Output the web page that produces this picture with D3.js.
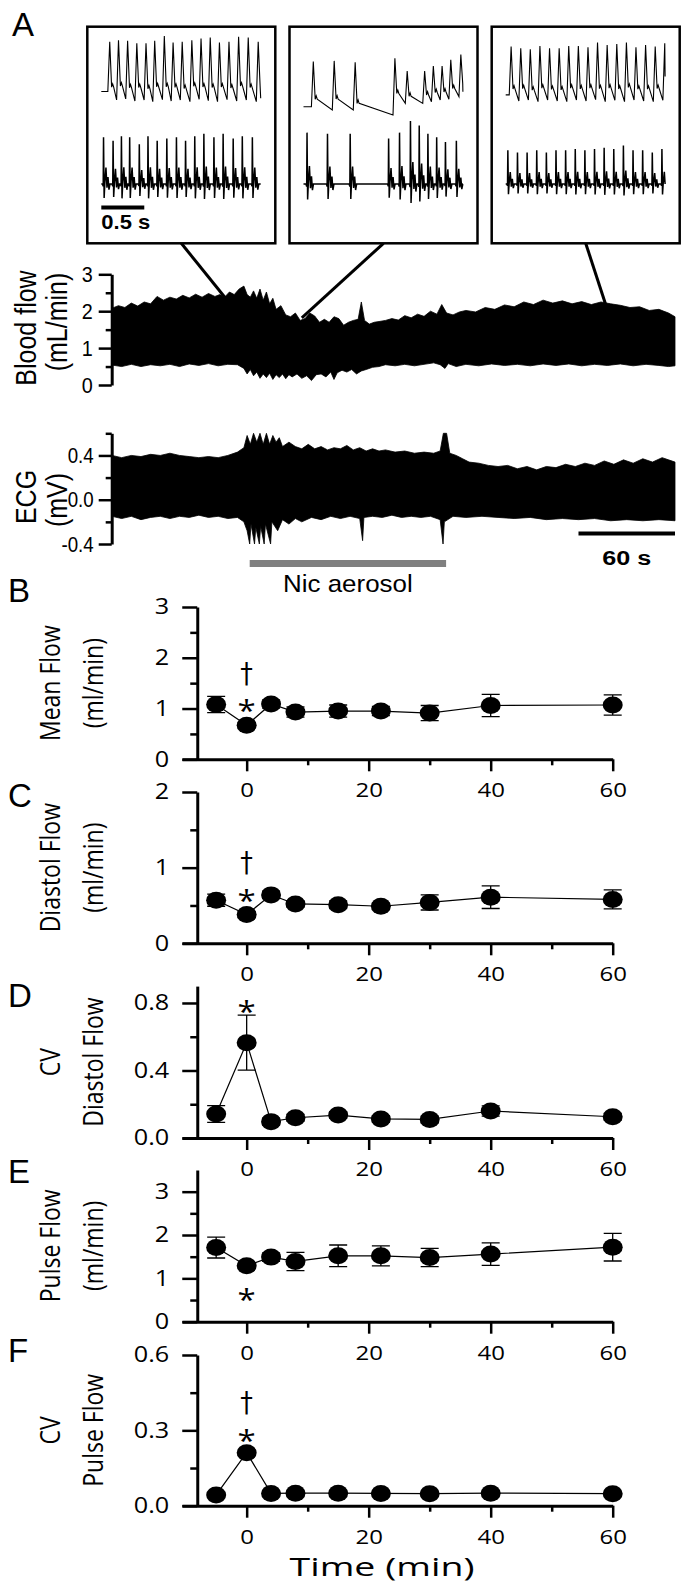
<!DOCTYPE html>
<html>
<head>
<meta charset="utf-8">
<script src="https://cdn.jsdelivr.net/npm/d3@7"></script>
<style>
  body { margin: 0; background: #fff; }
  svg { display: block; }
</style>
</head>
<body>
<svg id="fig"></svg>
<script>
// ---------- panel A: raw traces (envelope of the recordings, s / mL/min / mV) ----------
const flowTopT = [0,4,8,12,16,20,24,28,32,36,40,44,48,52,56,60,64,67,70,73,76,79,82,84,86,88,90,92,94,96,98,100,102,105,108,111,114,117,120,123,126,129,132,135,138,141,144,147,150,153,155,157,160,163,166,170,174,178,182,186,190,194,198,202,205,208,212,216,220,226,232,238,244,250,256,262,268,274,280,286,292,298,304,310,316,322,328,334,340,346,350];
const flowTop = [2.08,2.15,2.10,2.22,2.14,2.25,2.20,2.40,2.30,2.38,2.33,2.43,2.36,2.46,2.38,2.48,2.40,2.45,2.38,2.52,2.45,2.60,2.68,2.45,2.38,2.55,2.35,2.60,2.30,2.52,2.20,2.35,2.05,2.15,1.90,1.85,1.95,1.75,1.80,1.95,1.87,1.70,1.78,1.70,1.85,1.80,1.62,1.70,1.75,1.78,2.25,1.75,1.65,1.70,1.72,1.75,1.80,1.76,1.88,1.82,1.92,1.86,2.00,1.92,2.18,1.95,1.90,1.98,2.02,1.98,2.10,2.05,2.17,2.12,2.25,2.18,2.30,2.22,2.28,2.20,2.26,2.18,2.25,2.20,2.16,2.10,2.12,2.02,2.05,1.95,1.85];
const flowBotT = [0,6,12,18,24,30,36,42,48,54,60,66,72,78,82,84,86,88,90,92,94,96,98,100,102,104,106,108,110,112,115,118,121,124,127,130,133,136,138,140,143,146,149,152,155,158,162,166,170,176,182,188,194,200,204,207,209,214,220,228,236,244,252,260,268,276,284,292,300,308,316,324,332,340,346,350];
const flowBot = [0.54,0.50,0.56,0.50,0.55,0.52,0.56,0.50,0.57,0.53,0.58,0.52,0.56,0.55,0.45,0.30,0.42,0.25,0.35,0.18,0.30,0.20,0.32,0.15,0.28,0.20,0.30,0.17,0.28,0.22,0.30,0.18,0.25,0.12,0.28,0.30,0.22,0.35,0.15,0.33,0.40,0.35,0.42,0.30,0.38,0.42,0.48,0.50,0.55,0.52,0.56,0.52,0.56,0.60,0.55,0.45,0.58,0.50,0.56,0.52,0.57,0.53,0.56,0.52,0.57,0.53,0.57,0.52,0.56,0.53,0.57,0.52,0.56,0.53,0.50,0.52];
const ecgTopT = [0,6,12,18,24,30,36,42,48,54,60,66,72,78,82,84,86,88,90,92,94,96,98,100,102,104,106,110,114,118,122,126,130,134,138,142,146,150,154,158,162,166,170,176,182,188,194,200,204,206,208,210,214,218,222,228,234,240,246,252,258,264,270,276,282,288,294,300,306,312,318,324,330,336,342,346,350];
const ecgTop = [0.40,0.38,0.40,0.39,0.41,0.40,0.42,0.40,0.39,0.38,0.39,0.38,0.40,0.43,0.47,0.58,0.50,0.60,0.52,0.60,0.50,0.60,0.50,0.58,0.52,0.56,0.48,0.52,0.48,0.46,0.50,0.46,0.48,0.45,0.47,0.46,0.49,0.45,0.47,0.44,0.46,0.44,0.45,0.43,0.44,0.42,0.43,0.42,0.44,0.60,0.60,0.42,0.40,0.37,0.34,0.33,0.31,0.30,0.31,0.28,0.30,0.27,0.30,0.29,0.32,0.30,0.33,0.31,0.35,0.32,0.36,0.33,0.37,0.34,0.38,0.36,0.34];
const ecgBotT = [0,6,12,18,24,30,36,42,48,54,60,66,72,78,82,84,85.6,86.4,88.6,89.4,91.6,92.4,94.6,95.4,98.6,99.4,103,106,110,114,118,124,130,136,142,148,154,155.8,156.6,162,168,174,180,186,192,198,204,205.8,206.6,212,220,230,240,250,260,270,280,290,300,310,320,330,340,350];
const ecgBot = [-0.15,-0.17,-0.15,-0.18,-0.16,-0.15,-0.17,-0.15,-0.16,-0.14,-0.16,-0.15,-0.17,-0.16,-0.20,-0.28,-0.40,-0.22,-0.40,-0.25,-0.40,-0.24,-0.40,-0.22,-0.40,-0.20,-0.28,-0.18,-0.22,-0.17,-0.20,-0.16,-0.18,-0.15,-0.17,-0.15,-0.17,-0.37,-0.16,-0.15,-0.16,-0.14,-0.16,-0.15,-0.16,-0.15,-0.18,-0.40,-0.20,-0.15,-0.16,-0.15,-0.16,-0.17,-0.16,-0.18,-0.17,-0.18,-0.17,-0.19,-0.18,-0.19,-0.18,-0.19];

const flowTicks = [0, 0.5, 1, 1.5, 2, 2.5, 3];
const flowMajor = [0, 1, 2, 3];
const ecgTicks = [-0.4, -0.2, 0, 0.2, 0.4, 0.6];
const ecgMajor = [-0.4, 0, 0.4];

const nicPeriod = [85.6, 207.7];   // s
const scaleBar = [290, 350];       // 60 s
const insetAt = [71, 118, 307];    // where each inset was taken (s)
const insetFlow = [2.33, 1.82, 2.17];

// ---------- insets: beat times (s), pulse peaks / troughs (mL/min), ECG R amplitude (mV) ----------
const insetSpan = 1.854;
const in1PulseT = [0.086,0.188,0.294,0.401,0.508,0.609,0.721,0.823,0.929,1.041,1.148,1.255,1.362,1.473,1.585,1.697,1.813];
const in1PulsePeak = [2.26,2.31,2.29,2.22,2.22,2.29,2.43,2.24,2.26,2.31,2.36,2.39,2.24,2.26,2.41,2.39,2.26];
const in1PulseTrough = [0.80,0.55,0.58,0.52,0.55,0.50,0.56,0.52,0.55,0.50,0.57,0.53,0.50,0.56,0.52,0.55,0.50];
const in1PulseEnd = 0.6;
const in1EcgT = [0.026,0.137,0.234,0.330,0.442,0.543,0.650,0.762,0.874,0.980,1.087,1.193,1.310,1.417,1.534,1.640,1.757];
const in1EcgAmp = [0.40,0.37,0.41,0.40,0.34,0.41,0.37,0.39,0.40,0.37,0.41,0.43,0.40,0.43,0.39,0.41,0.40];

const in2PulseT = [0.102,0.345,0.589,1.051,1.194,1.397,1.498,1.600,1.701,1.818];
const in2PulsePeak = [1.68,1.70,1.66,1.78,1.40,1.40,1.55,1.55,1.73,1.89];
const in2PulseTrough = [0.35,0.26,0.26,0.11,0.45,0.45,0.50,0.55,0.57,0.65];
const in2PulseEnd = 0.79;
const in2EcgT = [0.041,0.279,0.543,0.990,1.117,1.244,1.346,1.447,1.549,1.651,1.778];
const in2EcgAmp = [0.44,0.43,0.43,0.39,0.44,0.54,0.50,0.43,0.40,0.36,0.37];

const in3PulseT = [0.051,0.163,0.274,0.386,0.498,0.610,0.721,0.833,0.945,1.056,1.168,1.280,1.392,1.503,1.615,1.727,1.838];
const in3PulsePeak = [2.12,2.07,2.04,2.14,2.07,2.07,2.14,2.14,2.10,2.24,2.17,2.20,2.24,2.10,2.17,2.12,2.22];
const in3PulseTrough = [0.70,0.52,0.55,0.50,0.55,0.52,0.50,0.55,0.52,0.56,0.50,0.54,0.50,0.55,0.52,0.50,0.54];
const in3PulseEnd = 1.24;
const in3EcgT = [0.025,0.137,0.249,0.361,0.473,0.585,0.697,0.809,0.921,1.033,1.145,1.257,1.369,1.481,1.593,1.705,1.817];
const in3EcgAmp = [0.29,0.27,0.27,0.29,0.27,0.29,0.29,0.30,0.29,0.30,0.31,0.30,0.33,0.29,0.29,0.27,0.30];

// ---------- panels B-F: summary values (mean ± SE) ----------
const times = [-5, 0, 4, 8, 15, 22, 30, 40, 60];
const meanFlow = [1.08, 0.67, 1.09, 0.93, 0.95, 0.95, 0.91, 1.06, 1.07];
const meanFlowErr = [0.16, 0.05, 0.08, 0.10, 0.12, 0.09, 0.15, 0.22, 0.20];
const diastolFlow = [0.57, 0.38, 0.64, 0.52, 0.51, 0.49, 0.54, 0.61, 0.58];
const diastolFlowErr = [0.08, 0.04, 0.05, 0.04, 0.05, 0.04, 0.10, 0.15, 0.125];
const cvDiastol = [0.142, 0.565, 0.097, 0.12, 0.136, 0.113, 0.11, 0.16, 0.126];
const cvDiastolErr = [0.05, 0.163, 0.02, 0.02, 0.02, 0.02, 0.02, 0.03, 0.02];
const pulseFlow = [1.71, 1.29, 1.49, 1.39, 1.52, 1.52, 1.48, 1.56, 1.72];
const pulseFlowErr = [0.24, 0.05, 0.10, 0.21, 0.25, 0.23, 0.21, 0.26, 0.32];
const cvPulse = [0.043, 0.211, 0.049, 0.05, 0.05, 0.049, 0.048, 0.05, 0.048];
const cvPulseErr = [0.005, 0.01, 0.005, 0.005, 0.005, 0.005, 0.005, 0.005, 0.005];

const xTicks = [0, 10, 20, 30, 40, 50, 60];
const xMajor = [0, 20, 40, 60];

// ---------- drawing ----------
const svg = d3.select('#fig').attr('width', 685).attr('height', 1586);
const SANS_A = '"Liberation Sans", Arial, sans-serif';
const SANS_B = '"Open Sans", "Noto Sans", sans-serif';

// stretch text horizontally around its anchor
function squeeze(sel, sx) {
  sel.each(function () {
    const t = d3.select(this);
    const x = +t.attr('x') || 0;
    t.attr('x', 0).attr('transform', `translate(${x},0) scale(${sx},1)`);
  });
}

function styleAxis(g, font, size, sx) {
  g.attr('font-family', null).attr('font-size', null);
  g.select('.domain').attr('stroke-width', 3).attr('stroke', '#000');
  g.selectAll('.tick line').attr('stroke-width', 2.5).attr('stroke', '#000');
  g.selectAll('.tick text').attr('font-family', font).attr('font-size', size).attr('fill', '#000');
  squeeze(g.selectAll('.tick text'), sx);
}

function addText(txt, x, y, o = {}) {
  const t = svg.append('text').text(txt)
    .attr('font-family', o.font || SANS_A)
    .attr('font-size', o.size || 20)
    .attr('font-weight', o.weight || 'normal')
    .attr('text-anchor', o.anchor || 'start');
  if (o.rotate) {
    t.attr('transform', `translate(${x},${y}) rotate(-90) scale(1,${o.sy || 1})`).attr('dy', '0.35em');
  } else {
    t.attr('transform', `translate(${x},${y}) scale(${o.sx || 1},1)`);
  }
  return t;
}

// panel A scales
const tx = d3.scaleLinear().domain([0, 350]).range([112, 675]);
const flowY = d3.scaleLinear().domain([0, 3]).range([385, 274.3]);
const ecgY = d3.scaleLinear().domain([-0.4, 0.6]).range([544, 433.3]);

function band(topT, top, botT, bot, yS) {
  const pts = topT.map((t, i) => [tx(t), yS(top[i])])
    .concat(botT.map((t, i) => [tx(t), yS(bot[i])]).reverse());
  return d3.line()(pts) + 'Z';
}

svg.append('path').attr('d', band(flowTopT, flowTop, flowBotT, flowBot, flowY))
  .attr('fill', '#000').attr('stroke', '#000').attr('stroke-width', 0.8);
svg.append('path').attr('d', band(ecgTopT, ecgTop, ecgBotT, ecgBot, ecgY))
  .attr('fill', '#000').attr('stroke', '#000').attr('stroke-width', 0.8);

const gFlow = svg.append('g').attr('transform', `translate(${tx(0) - 0.3},0)`)
  .call(d3.axisLeft(flowY).tickValues(flowTicks).tickSize(13).tickSizeOuter(0).tickPadding(6)
    .tickFormat(d => flowMajor.includes(d) ? d : ''));
gFlow.selectAll('.tick line').attr('x2', d => flowMajor.includes(d) ? -13 : -6);
styleAxis(gFlow, SANS_A, 22, 0.9);

const gEcg = svg.append('g').attr('transform', `translate(${tx(0) - 0.3},0)`)
  .call(d3.axisLeft(ecgY).tickValues(ecgTicks).tickSize(13).tickSizeOuter(0).tickPadding(5)
    .tickFormat(d => ecgMajor.includes(d) ? d.toFixed(1) : ''));
gEcg.selectAll('.tick line').attr('x2', d => ecgMajor.includes(d) ? -13 : -6);
styleAxis(gEcg, SANS_A, 22, 0.85);

addText('Blood flow', 26, 328, { rotate: true, size: 25, anchor: 'middle', sy: 1.15 });
addText('(mL/min)', 57, 322, { rotate: true, size: 25, anchor: 'middle', sy: 1.15 });
addText('ECG', 26, 497, { rotate: true, size: 25, anchor: 'middle', sy: 1.15 });
addText('(mV)', 57, 500, { rotate: true, size: 25, anchor: 'middle', sy: 1.15 });

// nicotine bar and 60 s scale
svg.append('line').attr('x1', tx(nicPeriod[0])).attr('x2', tx(nicPeriod[1]))
  .attr('y1', 563.5).attr('y2', 563.5).attr('stroke', '#808080').attr('stroke-width', 7);
addText('Nic aerosol', tx((nicPeriod[0] + nicPeriod[1]) / 2), 592, { size: 24, anchor: 'middle', sx: 1.08 });
svg.append('line').attr('x1', tx(scaleBar[0])).attr('x2', tx(scaleBar[1]))
  .attr('y1', 533.5).attr('y2', 533.5).attr('stroke', '#000').attr('stroke-width', 4);
addText('60 s', tx((scaleBar[0] + scaleBar[1]) / 2), 565, { size: 21, weight: 'bold', anchor: 'middle', sx: 1.2 });

// insets
const boxX = [87.3, 289.5, 491.7], boxTop = 26.7, boxBot = 243.3, boxW = 188;
const insets = [
  { pT: in1PulseT, pk: in1PulsePeak, tr: in1PulseTrough, end: in1PulseEnd, eT: in1EcgT, eA: in1EcgAmp },
  { pT: in2PulseT, pk: in2PulsePeak, tr: in2PulseTrough, end: in2PulseEnd, eT: in2EcgT, eA: in2EcgAmp },
  { pT: in3PulseT, pk: in3PulsePeak, tr: in3PulseTrough, end: in3PulseEnd, eT: in3EcgT, eA: in3EcgAmp }
];
const inPulseY = d3.scaleLinear().domain([0.6, 2.3]).range([98.3, 40.5]);
const inEcgY = d3.scaleLinear().domain([0, 0.4]).range([184, 137.3]);
// beat glyphs: [time offset s, fraction]
const ecgShape = [[-0.012, 0], [-0.004, -0.05], [0, 1], [0.007, -0.3], [0.016, 0.05], [0.028, 0.35], [0.04, -0.08], [0.052, 0.15], [0.063, -0.12], [0.075, 0]];

insets.forEach((ins, k) => {
  const x0 = boxX[k];
  const ix = d3.scaleLinear().domain([0, insetSpan]).range([x0 + 14, x0 + 14 + 159.4]);
  // leader line
  svg.append('line').attr('x1', x0 + boxW / 2).attr('y1', boxBot)
    .attr('x2', tx(insetAt[k])).attr('y2', flowY(insetFlow[k]))
    .attr('stroke', '#000').attr('stroke-width', 3);
  svg.append('rect').attr('x', x0).attr('y', boxTop).attr('width', boxW).attr('height', boxBot - boxTop)
    .attr('fill', '#fff').attr('stroke', '#000').attr('stroke-width', 2.5);

  let pp = [[0, ins.tr[0]]];
  ins.pT.forEach((t, i) => {
    const next = i + 1 < ins.pT.length ? ins.tr[i + 1] : ins.end;
    const notch = next + 0.22 * (ins.pk[i] - next);
    pp.push([t - 0.01, ins.tr[i]], [t + 0.012, ins.pk[i]], [t + 0.034, notch], [t + 0.046, notch + 0.1], [t + 0.058, notch]);
  });
  pp = pp.filter(d => d[0] <= insetSpan);
  pp.push([insetSpan, ins.end]);
  svg.append('path').attr('d', d3.line().x(d => ix(d[0])).y(d => inPulseY(d[1]))(pp))
    .attr('fill', 'none').attr('stroke', '#000').attr('stroke-width', 1.1);

  let ep = [[0, 0]];
  ins.eT.forEach((t, i) => ecgShape.forEach(([dt, f]) => ep.push([t + dt, f * ins.eA[i]])));
  ep = ep.filter(d => d[0] >= 0 && d[0] <= insetSpan);
  ep.push([insetSpan, 0]);
  svg.append('path').attr('d', d3.line().x(d => ix(d[0])).y(d => inEcgY(d[1]))(ep))
    .attr('fill', 'none').attr('stroke', '#000').attr('stroke-width', 1.5);

  if (k === 0) {
    svg.append('line').attr('x1', ix(0)).attr('x2', ix(0.5)).attr('y1', 207.5).attr('y2', 207.5)
      .attr('stroke', '#000').attr('stroke-width', 4);
    addText('0.5 s', ix(0), 229, { size: 20, weight: 'bold', sx: 1.1 });
  }
});

addText('A', 12, 36, { size: 33 });

// ---------- panels B-F ----------
const timeX = d3.scaleLinear().domain([-10.6, 60]).range([182, 612.7]);
const yAxisX = timeX(-8.1);

const panels = [
  { letter: 'B', letterY: 602, vals: meanFlow, err: meanFlowErr, domain: [0, 3], top: 607, bottom: 759.3,
    ticks: [0, 0.5, 1, 1.5, 2, 2.5, 3], major: [0, 1, 2, 3], fmt: d => d, title: ['Mean Flow', '(ml/min)'],
    marks: [['†', -50], ['*', -21]] },
  { letter: 'C', letterY: 807, vals: diastolFlow, err: diastolFlowErr, domain: [0, 2], top: 792, bottom: 943.3,
    ticks: [0, 0.5, 1, 1.5, 2], major: [0, 1, 2], fmt: d => d, title: ['Diastol Flow', '(ml/min)'],
    marks: [['†', -51], ['*', -21]] },
  { letter: 'D', letterY: 1007, vals: cvDiastol, err: cvDiastolErr, domain: [0, 0.9], top: 986.1, bottom: 1138,
    ticks: [0, 0.2, 0.4, 0.6, 0.8], major: [0, 0.4, 0.8], fmt: d => d.toFixed(1), title: ['CV', 'Diastol Flow'],
    marks: [['*', -38]] },
  { letter: 'E', letterY: 1183, vals: pulseFlow, err: pulseFlowErr, domain: [0, 3.5], top: 1170, bottom: 1321.7,
    ticks: [0, 0.5, 1, 1.5, 2, 2.5, 3], major: [0, 1, 2, 3], fmt: d => d, title: ['Pulse Flow', '(ml/min)'],
    marks: [['*', 27]] },
  { letter: 'F', letterY: 1362, vals: cvPulse, err: cvPulseErr, domain: [0, 0.6], top: 1355, bottom: 1505.7,
    ticks: [0, 0.15, 0.3, 0.45, 0.6], major: [0, 0.3, 0.6], fmt: d => d.toFixed(1), title: ['CV', 'Pulse Flow'],
    marks: [['†', -49], ['*', -19]] }
];

panels.forEach(p => {
  const y = d3.scaleLinear().domain(p.domain).range([p.bottom, p.top]);

  const gx = svg.append('g').attr('transform', `translate(0,${p.bottom})`)
    .call(d3.axisBottom(timeX).tickValues(xTicks).tickSize(12).tickSizeOuter(0).tickPadding(12)
      .tickFormat(d => xMajor.includes(d) ? d : ''));
  gx.selectAll('.tick line').attr('y2', d => xMajor.includes(d) ? 12 : 6);
  styleAxis(gx, SANS_B, 20, 1.2);

  const gy = svg.append('g').attr('transform', `translate(${yAxisX},0)`)
    .call(d3.axisLeft(y).tickValues(p.ticks).tickSize(15).tickSizeOuter(0).tickPadding(13)
      .tickFormat(d => p.major.includes(d) ? p.fmt(d) : ''));
  gy.selectAll('.tick line').attr('x2', d => p.major.includes(d) ? -15 : -7);
  styleAxis(gy, SANS_B, 21, 1.2);

  const mid = (p.top + p.bottom) / 2;
  addText(p.title[0], 50, mid, { rotate: true, font: SANS_B, size: 23, anchor: 'middle', sy: 1.2 });
  addText(p.title[1], 93, mid, { rotate: true, font: SANS_B, size: 23, anchor: 'middle', sy: 1.2 });
  addText(p.letter, 8, p.letterY, { size: 33 });

  const pts = times.map((t, i) => ({ t, v: p.vals[i], e: p.err[i] }));

  svg.append('path').datum(pts)
    .attr('d', d3.line().x(d => timeX(d.t)).y(d => y(d.v)))
    .attr('fill', 'none').attr('stroke', '#000').attr('stroke-width', 1.2);

  svg.append('g').selectAll('path').data(pts).enter().append('path')
    .attr('d', d => {
      const cx = timeX(d.t), hi = y(d.v + d.e), lo = y(d.v - d.e);
      return `M${cx - 9},${hi}H${cx + 9}M${cx},${hi}V${lo}M${cx - 9},${lo}H${cx + 9}`;
    })
    .attr('fill', 'none').attr('stroke', '#000').attr('stroke-width', 1.3);

  svg.append('g').selectAll('ellipse').data(pts).enter().append('ellipse')
    .attr('cx', d => timeX(d.t)).attr('cy', d => y(d.v))
    .attr('rx', 10).attr('ry', 8.5).attr('fill', '#000');

  const c0 = y(p.vals[1]);
  p.marks.forEach(([sym, off]) => {
    if (sym === '*') {
      addText(sym, timeX(0), c0 + off + 17, { font: SANS_B, size: 30, anchor: 'middle', sx: 1.1 });
    } else {
      addText(sym, timeX(0), c0 + off + 8, { font: '"DejaVu Sans", sans-serif', size: 28, anchor: 'middle', sx: 0.9 });
    }
  });
});

addText('Time (min)', 382, 1576, { font: SANS_B, size: 25, anchor: 'middle', sx: 1.5 });
</script>
</body>
</html>
